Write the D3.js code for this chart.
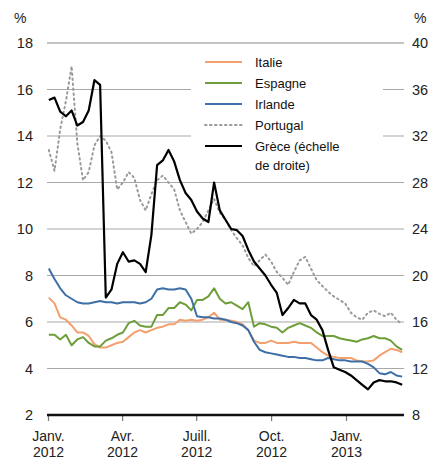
<!DOCTYPE html>
<html><head><meta charset="utf-8">
<script src="https://cdn.jsdelivr.net/npm/d3@7"></script>
<style>body{margin:0;background:#fff}svg{display:block;font-family:"Liberation Sans",Arial,sans-serif}</style>
</head><body><svg id="c" width="436" height="461"></svg>
<script>
const startDate = "2012-01-02";
const italie = [7.05,6.8,6.2,6.1,5.85,5.55,5.55,5.4,5.05,4.9,4.9,5.0,5.1,5.15,5.35,5.55,5.65,5.55,5.65,5.75,5.8,5.9,5.9,6.1,6.05,6.1,6.05,6.1,6.2,6.4,6.1,6.1,6.05,6.0,5.9,5.65,5.2,5.1,5.1,5.2,5.1,5.1,5.1,5.15,5.1,5.1,5.1,4.9,4.7,4.55,4.5,4.45,4.45,4.45,4.35,4.3,4.3,4.35,4.55,4.7,4.85,4.8,4.7];
const espagne = [5.45,5.45,5.25,5.45,5.0,5.25,5.35,5.1,4.95,4.95,5.2,5.3,5.45,5.55,5.95,6.05,5.85,5.8,5.8,6.3,6.3,6.6,6.6,6.85,6.75,6.5,6.95,6.95,7.1,7.45,7.0,6.8,6.85,6.7,6.55,6.85,5.8,5.95,5.9,5.8,5.75,5.55,5.75,5.85,5.95,5.85,5.75,5.55,5.4,5.4,5.4,5.3,5.25,5.2,5.15,5.25,5.3,5.4,5.3,5.3,5.2,4.95,4.8];
const irlande = [8.3,7.85,7.45,7.15,7.0,6.85,6.8,6.8,6.85,6.9,6.85,6.85,6.8,6.85,6.85,6.85,6.8,6.85,7.0,7.4,7.45,7.4,7.4,7.45,7.4,7.0,6.25,6.2,6.2,6.15,6.15,6.1,6.0,5.95,5.85,5.65,5.15,4.8,4.7,4.65,4.6,4.55,4.5,4.5,4.45,4.45,4.4,4.35,4.35,4.45,4.4,4.35,4.35,4.3,4.3,4.3,4.2,4.05,3.8,3.75,3.85,3.7,3.65];
const portugal = [13.4,12.5,14.3,15.5,17.0,13.7,12.1,12.45,13.6,14.0,13.8,13.3,11.7,12.0,12.45,12.2,11.25,10.8,11.5,12.1,12.3,12.0,11.7,10.8,10.3,9.8,10.0,10.3,10.8,11.3,10.7,10.4,9.95,9.6,9.3,8.75,8.4,8.65,8.9,8.6,8.15,7.9,7.6,8.15,8.65,8.8,8.3,7.8,7.55,7.3,7.1,6.95,6.8,6.4,6.2,6.1,6.4,6.5,6.35,6.25,6.4,6.1,5.9];
const grece = [35.1,35.3,34.1,33.7,34.2,32.9,33.2,34.2,36.8,36.4,18.1,18.8,21.0,22.0,21.2,21.3,21.0,20.3,23.5,29.5,29.9,30.8,29.8,28.2,27.1,26.5,25.5,24.9,24.6,28.0,25.6,24.8,24.0,23.9,23.4,22.2,21.2,20.6,20.0,19.2,18.5,16.6,17.2,17.9,17.6,17.6,16.6,16.2,15.3,13.6,12.1,11.9,11.7,11.4,11.0,10.6,10.2,10.8,11.0,10.9,10.9,10.8,10.6];
const leftTicks = [2,4,6,8,10,12,14,16,18];
const rightTicks = [8,12,16,20,24,28,32,36,40];
const xTickDates = ["2012-01-01","2012-04-01","2012-07-01","2012-10-01","2013-01-01"];
const xTickLabels = [["Janv.","2012"],["Avr.","2012"],["Juill.","2012"],["Oct.","2012"],["Janv.","2013"]];
const legendItems = [
  {name:["Italie"], key:"italie"},
  {name:["Espagne"], key:"espagne"},
  {name:["Irlande"], key:"irlande"},
  {name:["Portugal"], key:"portugal"},
  {name:["Grèce (échelle","de droite)"], key:"grece"}
];

const parse = d3.timeParse("%Y-%m-%d");
const t0 = parse(startDate);
const dates = italie.map((_, i) => d3.timeDay.offset(t0, 7 * i));

const styles = {
  italie:{color:"#f49f6e", width:2, dash:null, axis:"left"},
  espagne:{color:"#6e9e3a", width:2, dash:null, axis:"left"},
  irlande:{color:"#3d6fa6", width:2, dash:null, axis:"left"},
  portugal:{color:"#9a9a9a", width:2, dash:"1.5,3.5", axis:"left"},
  grece:{color:"#000", width:2.2, dash:null, axis:"right"}
};
const seriesData = {italie, espagne, irlande, portugal, grece};

const svg = d3.select("#c");
const x = d3.scaleTime().domain([parse("2012-01-01"), parse("2013-01-01")]).range([48, 346]);
const yL = d3.scaleLinear().domain([2, 18]).range([415, 43]);
const yR = d3.scaleLinear().domain([8, 40]).range([415, 43]);
const X0 = 47, X1 = 404;

// gridlines
svg.append("g").selectAll("line").data(leftTicks.filter(d => d > 2)).join("line")
  .attr("x1", X0).attr("x2", X1).attr("y1", d => yL(d)).attr("y2", d => yL(d))
  .attr("stroke", d => d === 18 ? "#8a8a8a" : "#a8a8a8").attr("stroke-width", 1.2);

// lines
const order = ["portugal","italie","espagne","irlande","grece"];
order.forEach(k => {
  const st = styles[k];
  const ys = st.axis === "left" ? yL : yR;
  const line = d3.line().x((d, i) => x(dates[i])).y(d => ys(d));
  svg.append("path").datum(seriesData[k]).attr("d", line)
    .attr("fill", "none").attr("stroke", st.color).attr("stroke-width", st.width)
    .attr("stroke-linejoin", "round")
    .attr("stroke-linecap", st.dash ? "round" : "butt")
    .attr("stroke-dasharray", st.dash);
});

// legend
const lg = svg.append("g");
lg.append("rect").attr("x", 191).attr("y", 50).attr("width", 192).attr("height", 126).attr("fill", "#fff");
const rowY = [62, 83, 104, 125, 146];
legendItems.forEach((it, i) => {
  const st = styles[it.key];
  lg.append("line").attr("x1", 205).attr("x2", 242).attr("y1", rowY[i]).attr("y2", rowY[i])
    .attr("stroke", st.color).attr("stroke-width", st.width)
    .attr("stroke-linecap", st.dash ? "round" : "butt").attr("stroke-dasharray", st.dash);
  const t = lg.append("text").attr("x", 255).attr("y", rowY[i] + 4.5)
    .attr("font-size", 13).attr("fill", "#111");
  it.name.forEach((n, j) => t.append("tspan").attr("x", 255).attr("dy", j ? 19 : 0).text(n));
});

// left axis
const la = svg.append("g").attr("transform", "translate(33,0)")
  .call(d3.axisLeft(yL).tickValues(leftTicks).tickSize(0).tickPadding(0).tickFormat(d3.format("d")));
la.select(".domain").remove();
la.selectAll("text").attr("font-size", 14.5).attr("fill", "#222").attr("font-family", "Liberation Sans, Arial, sans-serif");
// right axis
const ra = svg.append("g").attr("transform", "translate(412,0)")
  .call(d3.axisRight(yR).tickValues(rightTicks).tickSize(0).tickPadding(0).tickFormat(d3.format("d")));
ra.select(".domain").remove();
ra.selectAll("text").attr("font-size", 14.5).attr("fill", "#222").attr("font-family", "Liberation Sans, Arial, sans-serif");

svg.append("text").attr("x", 14).attr("y", 23).attr("font-size", 14).attr("fill", "#222").text("%");
svg.append("text").attr("x", 414).attr("y", 23).attr("font-size", 14).attr("fill", "#222").text("%");

// x axis
const xa = svg.append("g").attr("transform", "translate(0,415)")
  .call(d3.axisBottom(x).tickValues(xTickDates.map(parse)).tickSize(6).tickFormat(""));
xa.select(".domain").remove();
xa.selectAll(".tick line").attr("stroke", "#777").attr("stroke-width", 1.2);
xa.selectAll(".tick").each(function(d, i) {
  const t = d3.select(this).append("text").attr("fill", "#222").attr("font-size", 14)
    .attr("text-anchor", "middle").attr("font-family", "Liberation Sans, Arial, sans-serif");
  t.append("tspan").attr("x", 0).attr("y", 26).text(xTickLabels[i][0]);
  t.append("tspan").attr("x", 0).attr("y", 42).text(xTickLabels[i][1]);
});
svg.append("line").attr("x1", X0).attr("x2", X1).attr("y1", 415).attr("y2", 415)
  .attr("stroke", "#111").attr("stroke-width", 2.6);
</script></body></html>
